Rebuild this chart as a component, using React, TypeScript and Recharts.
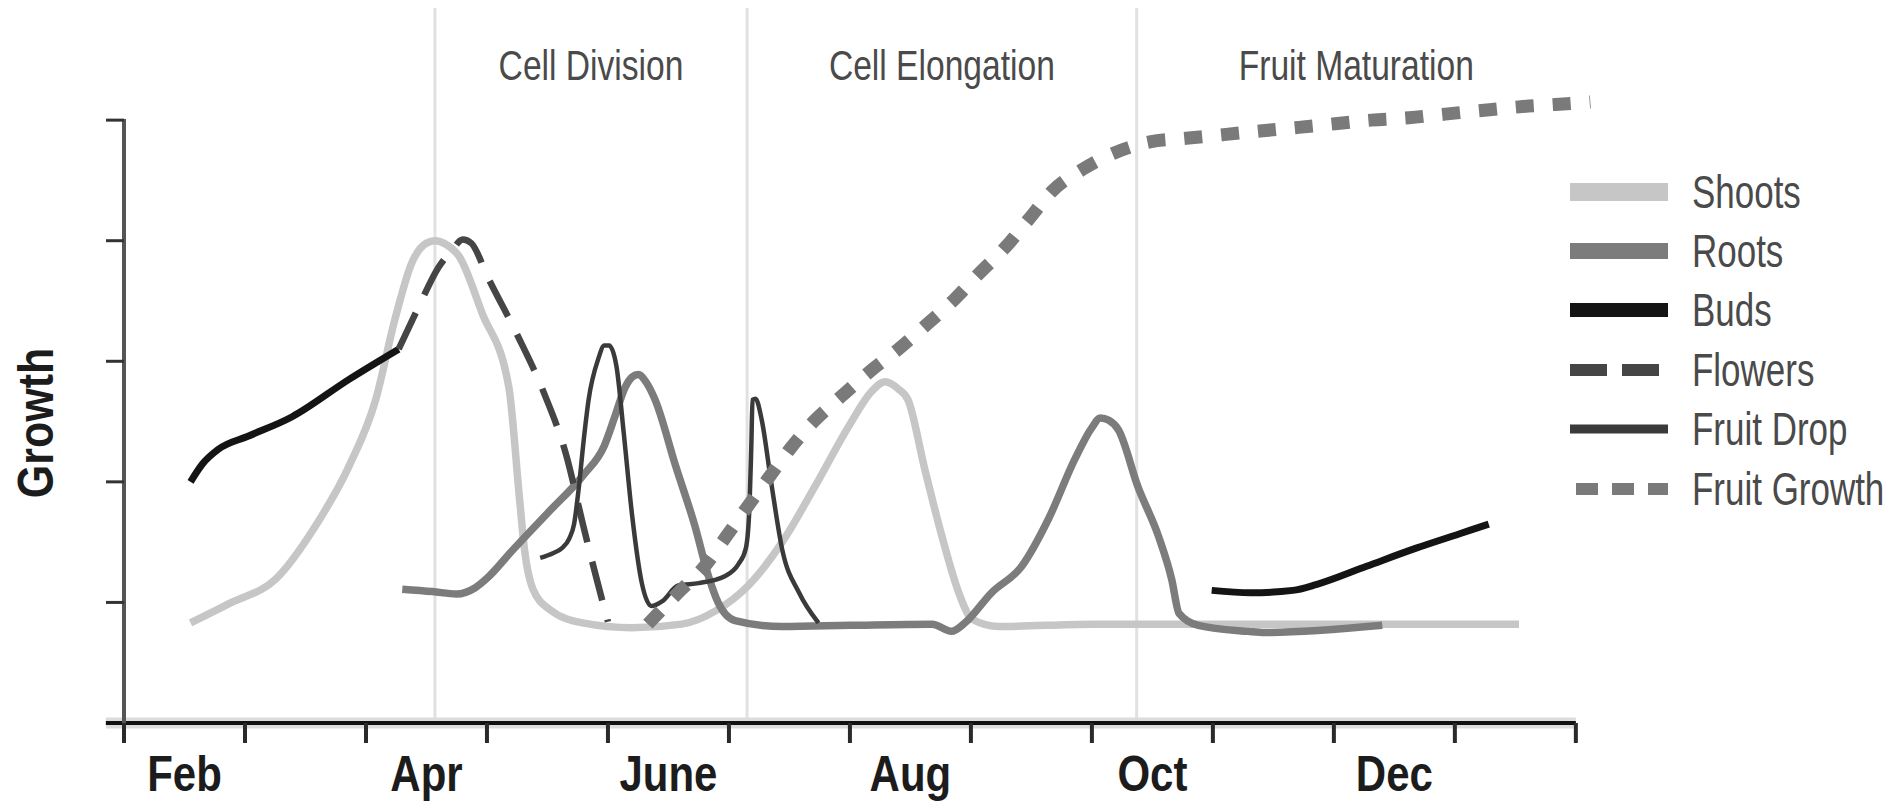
import React from "react"
import {
  LineChart,
  Line,
  XAxis,
  YAxis,
  ReferenceLine,
  ReferenceArea,
  Legend,
} from "recharts"

// no narrow face installed, so Liberation Sans gets squeezed horizontally
const FONT = "'Liberation Sans', Arial, sans-serif"

// x = months after start of Feb, y = relative growth
const monthBounds = [0, 1, 2, 3, 4, 5, 6, 7, 8, 9, 10, 11, 12]
const labelMonths = [0.5, 2.5, 4.5, 6.5, 8.5, 10.5]
const monthNames = ["Feb", "Apr", "June", "Aug", "Oct", "Dec"]
const growthTicks = [1, 2, 3, 4, 5]

const phaseNames = ["Cell Division", "Cell Elongation", "Fruit Maturation"]
const phaseStart = [2.57, 5.15, 8.37]
const phaseEnd = [5.15, 8.37, 12]

const shoots = [
  [0.55, 0.83], [0.89, 1.0], [1.25, 1.19], [1.58, 1.63], [1.86, 2.13], [2.08, 2.68],
  [2.24, 3.35], [2.38, 3.82], [2.5, 3.98], [2.57, 4.0], [2.66, 3.97], [2.77, 3.87],
  [2.96, 3.4], [3.18, 2.79], [3.27, 1.85], [3.31, 1.44], [3.38, 1.11], [3.52, 0.94],
  [3.79, 0.83], [4.2, 0.79], [4.61, 0.82], [4.89, 0.93], [5.16, 1.14], [5.44, 1.5],
  [5.71, 1.96], [5.99, 2.46], [6.18, 2.75], [6.29, 2.83], [6.4, 2.77], [6.48, 2.68],
  [6.62, 2.1], [6.76, 1.55], [6.9, 1.08], [7.01, 0.86], [7.23, 0.8], [8.0, 0.82],
  [10.0, 0.82], [11.53, 0.82],
]

const roots = [
  [2.3, 1.11], [2.55, 1.09], [2.75, 1.07], [2.9, 1.12], [3.0, 1.2], [3.2, 1.42],
  [3.5, 1.74], [3.8, 2.06], [3.97, 2.3], [4.06, 2.55], [4.14, 2.78], [4.2, 2.87],
  [4.25, 2.89], [4.32, 2.82], [4.39, 2.68], [4.56, 2.13], [4.72, 1.63], [4.83, 1.22],
  [4.91, 1.0], [5.05, 0.85], [5.44, 0.8], [6.0, 0.81], [6.68, 0.82], [6.84, 0.76],
  [6.95, 0.83], [7.17, 1.08], [7.42, 1.3], [7.64, 1.69], [7.86, 2.19], [8.0, 2.45],
  [8.07, 2.53], [8.14, 2.51], [8.22, 2.43], [8.38, 1.96], [8.55, 1.55], [8.66, 1.19],
  [8.72, 0.91], [8.88, 0.81], [9.29, 0.76], [9.43, 0.75], [10.4, 0.81],
]

const buds = [
  [0.55, 2.0], [0.65, 2.15], [0.78, 2.27], [1.03, 2.38], [1.39, 2.54], [1.86, 2.85],
  [2.27, 3.1], [5.5, null], [8.99, 1.1], [9.31, 1.08], [9.66, 1.1], [9.86, 1.15],
  [10.27, 1.3], [10.68, 1.45], [11.04, 1.57], [11.28, 1.65],
]

const flowers = [
  [2.27, 3.1], [2.43, 3.44], [2.6, 3.78], [2.71, 3.92], [2.8, 4.01], [2.87, 3.98],
  [3.01, 3.69], [3.25, 3.22], [3.47, 2.74], [3.65, 2.24], [3.8, 1.62], [3.9, 1.22],
  [4.0, 0.84],
]

const fruitDrop = [
  [3.44, 1.37], [3.55, 1.41], [3.62, 1.45], [3.68, 1.53], [3.72, 1.65], [3.76, 1.96],
  [3.8, 2.35], [3.84, 2.68], [3.92, 3.02], [3.97, 3.13], [4.01, 3.13], [4.07, 2.96],
  [4.13, 2.41], [4.2, 1.72], [4.28, 1.16], [4.36, 0.97], [4.45, 1.01], [4.58, 1.14],
  [4.75, 1.16], [4.97, 1.22], [5.08, 1.32], [5.14, 1.45], [5.17, 1.8], [5.185, 2.3],
  [5.195, 2.68], [5.22, 2.69], [5.27, 2.52], [5.35, 1.99], [5.44, 1.44], [5.58, 1.08],
  [5.74, 0.83],
]

const fruitGrowth = [
  [4.33, 0.82], [4.58, 1.08], [4.8, 1.3], [4.98, 1.55], [5.15, 1.79], [5.34, 2.05],
  [5.51, 2.28], [5.7, 2.5], [5.93, 2.71], [6.17, 2.92], [6.4, 3.1], [6.64, 3.31],
  [6.86, 3.51], [7.06, 3.72], [7.28, 3.94], [7.48, 4.18], [7.67, 4.41], [7.92, 4.59],
  [8.19, 4.73], [8.48, 4.82], [8.78, 4.85], [9.09, 4.88], [9.39, 4.91], [9.71, 4.94],
  [10.01, 4.97], [10.31, 5.0], [10.62, 5.02], [10.92, 5.05], [11.22, 5.08], [11.53, 5.11],
  [11.83, 5.13], [12.12, 5.15],
]

const seriesNames = ["Shoots", "Roots", "Buds", "Flowers", "Fruit Drop", "Fruit Growth"]
const seriesValues = [shoots, roots, buds, flowers, fruitDrop, fruitGrowth]

const seriesStyle: Record<string, any> = {
  Shoots: { stroke: "#c6c6c6", width: 7.5, swatch: 18 },
  Roots: { stroke: "#7c7c7c", width: 7.5, swatch: 16 },
  Buds: { stroke: "#141414", width: 7, swatch: 14 },
  Flowers: { stroke: "#454545", width: 6.5, dash: "40 20", swatch: 12, swatchDash: "37 15" },
  "Fruit Drop": { stroke: "#3a3a3a", width: 4.5, swatch: 9 },
  "Fruit Growth": { stroke: "#7a7a7a", width: 13, dash: "18 19", swatch: 12, swatchDash: "22 14", swatchStart: 6 },
}

const toPoints = (pairs: (number | null)[][]) => pairs.map(([m, g]) => ({ m, g }))

const allTicks = [...monthBounds, ...labelMonths].sort((a, b) => a - b)

function MonthTick(props: any) {
  const { x, y, payload } = props
  const i = labelMonths.indexOf(payload.value)
  if (i >= 0) {
    return (
      <text
        transform={`translate(${x}, ${y + 68}) scale(0.84, 1)`}
        textAnchor="middle"
        fontFamily={FONT}
        fontWeight="bold"
        fontSize={50}
        fill="#1c1c1c"
      >
        {monthNames[i]}
      </text>
    )
  }
  return <line x1={x} x2={x} y1={y} y2={y + 20} stroke="#2a2a2a" strokeWidth={4} />
}

function GrowthLegend() {
  return (
    <div style={{ fontFamily: FONT }}>
      {seriesNames.map((name) => {
        const s = seriesStyle[name]
        return (
          <div key={name} style={{ display: "flex", alignItems: "center", height: 59.4 }}>
            <svg width={100} height={30} style={{ display: "block", flexShrink: 0 }}>
              <line
                x1={s.swatchStart ?? 0}
                x2={98}
                y1={15}
                y2={15}
                stroke={s.stroke}
                strokeWidth={s.swatch}
                strokeDasharray={s.swatchDash}
              />
            </svg>
            <span
              style={{
                display: "inline-block",
                marginLeft: 22,
                fontSize: 46,
                color: "#4a4a4a",
                lineHeight: 1,
                whiteSpace: "nowrap",
                transform: "scaleX(0.76)",
                transformOrigin: "left center",
              }}
            >
              {name}
            </span>
          </div>
        )
      })}
    </div>
  )
}

export default function App() {
  return (
    <div style={{ position: "absolute", left: 0, top: 0, background: "#fff" }}>
      <LineChart width={1891} height={803} margin={{ top: 8, right: 297, left: 94, bottom: 1 }}>
        <XAxis
          dataKey="m"
          type="number"
          domain={[0, 12.15]}
          ticks={allTicks}
          interval={0}
          axisLine={false}
          tickLine={false}
          tickSize={0}
          tickMargin={0}
          height={79}
          tick={<MonthTick />}
        />
        <YAxis
          type="number"
          domain={[0, 5.93]}
          ticks={growthTicks}
          width={30}
          axisLine={false}
          tickSize={18}
          tickLine={{ stroke: "#333", strokeWidth: 3 }}
          tick={() => <g />}
          label={(p: any) => {
            const vb = p?.viewBox ?? { x: 94, y: 8 }
            return (
              <text
                transform={`translate(${vb.x - 58}, ${vb.y + 415}) rotate(-90) scale(0.86, 1)`}
                textAnchor="middle"
                dominantBaseline="central"
                fontFamily={FONT}
                fontWeight="bold"
                fontSize={50}
                fill="#1c1c1c"
              >
                Growth
              </text>
            )
          }}
        />
        {phaseNames.map((name, i) => (
          <ReferenceArea
            key={name}
            x1={phaseStart[i]}
            x2={phaseEnd[i]}
            fill="none"
            fillOpacity={0}
            stroke="none"
            label={(p: any) => {
              const vb = p?.viewBox ?? { x: 0, y: 8, width: 0 }
              return (
                <text
                  transform={`translate(${vb.x + vb.width / 2}, ${vb.y + 72}) scale(0.8, 1)`}
                  textAnchor="middle"
                  fontFamily={FONT}
                  fontSize={42}
                  fill="#4a4a4a"
                >
                  {name}
                </text>
              )
            }}
          />
        ))}
        {phaseStart.map((x) => (
          <ReferenceLine key={x} x={x} stroke="#e1e1e1" strokeWidth={3} />
        ))}
        <ReferenceLine
          segment={[{ x: -0.15, y: 0 }, { x: 12, y: 0 }]}
          stroke="#dcdcdc"
          strokeWidth={11}
          ifOverflow="visible"
        />
        <ReferenceLine
          segment={[{ x: -0.15, y: 0 }, { x: 12, y: 0 }]}
          stroke="#111"
          strokeWidth={4}
          ifOverflow="visible"
        />
        <ReferenceLine
          segment={[{ x: 0, y: -0.16 }, { x: 0, y: 5.01 }]}
          stroke="#555"
          strokeWidth={4}
          ifOverflow="visible"
        />
        {seriesNames.map((name, i) => {
          const s = seriesStyle[name]
          return (
            <Line
              key={name}
              name={name}
              data={toPoints(seriesValues[i])}
              dataKey="g"
              type="monotone"
              stroke={s.stroke}
              strokeWidth={s.width}
              strokeDasharray={s.dash}
              dot={false}
              activeDot={false}
              connectNulls={false}
              isAnimationActive={false}
            />
          )
        })}
        <Legend
          layout="horizontal"
          verticalAlign="middle"
          align="center"
          content={<GrowthLegend />}
          wrapperStyle={{ left: 1570, top: 162, width: 321, height: 360 }}
        />
      </LineChart>
    </div>
  )
}
